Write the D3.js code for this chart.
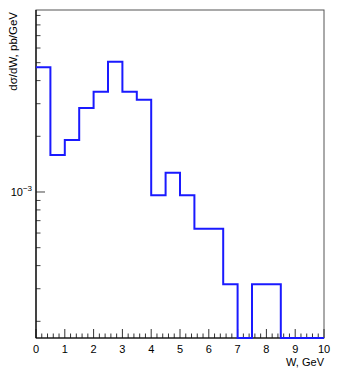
<!DOCTYPE html>
<html>
<head>
<meta charset="utf-8">
<script src="https://cdn.jsdelivr.net/npm/d3@7"></script>
<style>
  body { margin: 0; background: #fff; }
  text { font-family: "Liberation Sans", Arial, sans-serif; }
</style>
</head>
<body>
<div id="chart"></div>
<script>
// bin edges (GeV) and histogram contents (pb/GeV)
const binEdges = [0,0.5,1,1.5,2,2.5,3,3.5,4,4.5,5,5.5,6,6.5,7,7.5,8,8.5,9,9.5,10];
const binValues = [4.72e-3,1.585e-3,1.91e-3,2.84e-3,3.48e-3,5.06e-3,3.48e-3,3.15e-3,
                   9.6e-4,1.27e-3,9.6e-4,6.33e-4,6.33e-4,3.17e-4,0,3.17e-4,3.17e-4,0,0,0];
const xTicks = [0,1,2,3,4,5,6,7,8,9,10];
const yDomain = [1.625e-4, 9.63e-3];

const width = 338, height = 371;
const margin = {left: 36, right: 14, top: 10, bottom: 33};

const svg = d3.select("#chart").append("svg")
  .attr("width", width).attr("height", height);

// scales
const x = d3.scaleLinear().domain([0, 10]).range([margin.left, width - margin.right]);
const y = d3.scaleLog().domain(yDomain).range([height - margin.bottom, margin.top]);

// frame
svg.append("rect")
  .attr("x", x(0)).attr("y", y(yDomain[1]))
  .attr("width", x(10) - x(0)).attr("height", y(yDomain[0]) - y(yDomain[1]))
  .attr("fill", "none").attr("stroke", "#555").attr("stroke-width", 1);

// x axis ticks
const xMinor = d3.range(0, 10.001, 0.2);
svg.append("g").selectAll("line")
  .data(xMinor).enter().append("line")
  .attr("x1", d => x(d)).attr("x2", d => x(d))
  .attr("y1", y(yDomain[0]))
  .attr("y2", d => y(yDomain[0]) - (Math.abs(d - Math.round(d)) < 1e-6 ? 9 : 4.5))
  .attr("stroke", "#333").attr("stroke-width", 1);

svg.append("g").selectAll("text")
  .data(xTicks).enter().append("text")
  .attr("x", d => x(d)).attr("y", 353)
  .attr("text-anchor", "middle")
  .style("font-size", "11px")
  .text(d => d);

svg.append("text")
  .attr("x", x(10)).attr("y", 366)
  .attr("text-anchor", "end")
  .style("font-size", "11px")
  .text("W, GeV");

// y axis ticks (log)
const yMinor = [];
[1e-4, 1e-3].forEach(dec => {
  for (let k = 1; k < 10; k++) {
    const v = k * dec;
    if (v >= yDomain[0] && v <= yDomain[1]) yMinor.push(v);
  }
});
svg.append("g").selectAll("line")
  .data(yMinor).enter().append("line")
  .attr("x1", x(0))
  .attr("x2", d => x(0) + (Math.abs(d - 1e-3) < 1e-9 ? 9 : 4.5))
  .attr("y1", d => y(d)).attr("y2", d => y(d))
  .attr("stroke", "#444").attr("stroke-width", 1);

// y axis line
svg.append("line")
  .attr("x1", x(0)).attr("x2", x(0))
  .attr("y1", y(yDomain[0])).attr("y2", y(yDomain[1]))
  .attr("stroke", "#000").attr("stroke-width", 1.2);
svg.append("line")
  .attr("x1", x(0)).attr("x2", x(10))
  .attr("y1", y(yDomain[0])).attr("y2", y(yDomain[0]))
  .attr("stroke", "#000").attr("stroke-width", 1);

// 10^-3 label
const lab = svg.append("text")
  .attr("x", x(0) - 4).attr("y", y(1e-3) + 4)
  .attr("text-anchor", "end")
  .style("font-size", "11px");
lab.append("tspan").text("10");
lab.append("tspan").attr("dy", -5).style("font-size", "8px").text("\u22123");

// y title
svg.append("text")
  .attr("transform", "translate(17," + 12 + ") rotate(-90)")
  .attr("text-anchor", "end")
  .style("font-size", "11.5px")
  .text("d\u03c3/dW, pb/GeV");

// histogram step line
const pts = [];
binValues.forEach((v, i) => {
  const vv = Math.max(v, yDomain[0]);
  pts.push([binEdges[i], vv]);
  pts.push([binEdges[i + 1], vv]);
});
const line = d3.line()
  .x(d => x(d[0]))
  .y(d => y(d[1]));
svg.append("path")
  .attr("d", line(pts))
  .attr("fill", "none")
  .attr("stroke", "#1a1aff")
  .attr("stroke-width", 2);
</script>
</body>
</html>
